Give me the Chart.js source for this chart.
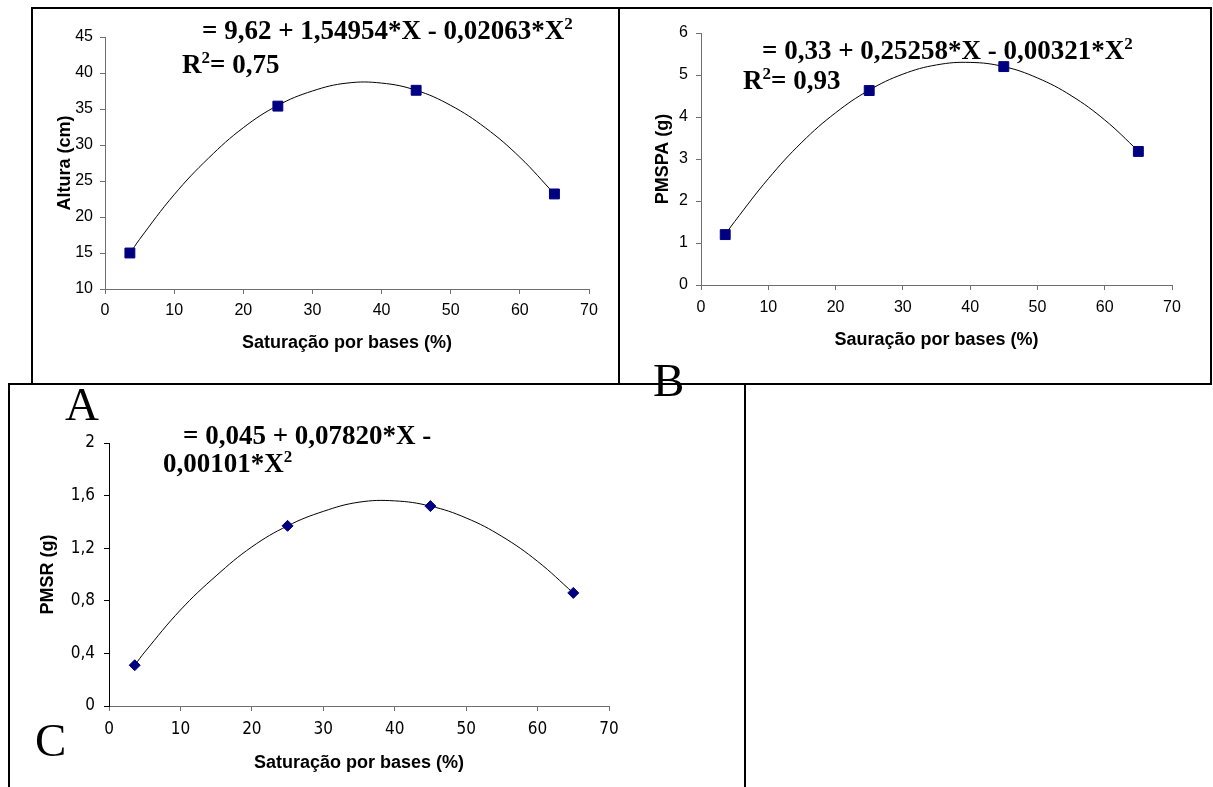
<!DOCTYPE html>
<html>
<head>
<meta charset="utf-8">
<script src="https://cdn.jsdelivr.net/npm/chart.js@4.4.0/dist/chart.umd.min.js"></script>
<style>
  body { margin: 0; background: #fff; width: 1213px; height: 787px; overflow: hidden; position: relative; }
  .box { position: absolute; border: 2px solid #000; box-sizing: border-box; }
  canvas { position: absolute; }
  .eq { position: absolute; font-family: 'Liberation Serif', 'Times New Roman', serif; font-weight: bold;
        font-size: 27px; line-height: 30px; white-space: nowrap; color: #000; }
  .eq .sup { font-size: 17px; position: relative; top: -10px; }
  .tag { position: absolute; font-family: 'Liberation Serif', 'Times New Roman', serif; font-size: 47px; line-height: 47px; color: #000; }
</style>
</head>
<body>
<div class="box" style="left:31px; top:7px; width:589px; height:378px;"></div>
<div class="box" style="left:618px; top:7px; width:594px; height:378px;"></div>
<div class="box" style="left:8px; top:383px; width:738px; height:420px;"></div>

<canvas id="chartA"></canvas>
<canvas id="chartB"></canvas>
<canvas id="chartC"></canvas>

<div class="eq" style="left:202px; top:15px;">= 9,62 + 1,54954*X - 0,02063*X<span class="sup">2</span></div>
<div class="eq" style="left:182px; top:49px;">R<span class="sup">2</span>= 0,75</div>
<div class="eq" style="left:762px; top:35px;">= 0,33 + 0,25258*X - 0,00321*X<span class="sup">2</span></div>
<div class="eq" style="left:743px; top:65px;">R<span class="sup">2</span>= 0,93</div>
<div class="eq" style="left:183px; top:420px;">= 0,045 + 0,07820*X -</div>
<div class="eq" style="left:163px; top:448px;">0,00101*X<span class="sup">2</span></div>

<div class="tag" style="left:65px; top:381px;">A</div>
<div class="tag" style="left:653px; top:357px;">B</div>
<div class="tag" style="left:35px; top:717px;">C</div>

<script>
// observed points (saturation %, response)
const satX = [3.6, 25, 45, 65];
const alturaCm = [15.0, 35.4, 37.6, 23.2];
const pmspaG = [1.2, 4.63, 5.2, 3.18];
const pmsrG = [0.31, 1.37, 1.52, 0.86];

// fitted curves
const curveX = [3.6, 5, 10, 15, 20, 25, 30, 35, 40, 45, 50, 55, 60, 65];
const curveAltura = [14.9, 16.9, 23.1, 28.2, 32.4, 35.5, 37.5, 38.6, 38.6, 37.6, 35.5, 32.4, 28.3, 23.2];
const curvePmspa = [1.2, 1.51, 2.53, 3.40, 4.10, 4.64, 5.02, 5.24, 5.30, 5.20, 4.93, 4.51, 3.93, 3.19];
const curvePmsr = [0.31, 0.41, 0.73, 0.99, 1.21, 1.37, 1.48, 1.55, 1.56, 1.52, 1.43, 1.29, 1.10, 0.86];

const pmsrTickLabels = ['0', '0,4', '0,8', '1,2', '1,6', '2'];

const AXIS_COLOR = '#6f6f6f';
const MARK_COLOR = '#000080';

function toPoints(xs, ys) {
    return xs.map((x, i) => ({ x: x, y: ys[i] }));
}

/**
 * Place a canvas and build a scatter + trend chart so that the
 * plot area lands on the given page rectangle.
 */
function buildPanel(id, opt) {
    const cv = document.getElementById(id);
    cv.width = opt.cw;
    cv.height = opt.ch;
    cv.style.left = opt.cx + 'px';
    cv.style.top = opt.cy + 'px';

    const l = opt.area.l - opt.cx;
    const t = opt.area.t - opt.cy;
    const r = opt.area.r - opt.cx;
    const b = opt.area.b - opt.cy;

    const tickFont = { family: opt.tickFamily, size: opt.tickSize };
    const titleFont = { family: 'Liberation Sans', size: 18, weight: 'bold' };

    return new Chart(cv, {
        type: 'scatter',
        data: {
            datasets: [{
                data: toPoints(satX, opt.ys),
                pointStyle: opt.marker,
                pointRadius: opt.radius,
                backgroundColor: MARK_COLOR,
                borderColor: MARK_COLOR,
                borderWidth: 1
            }, {
                data: toPoints(curveX, opt.curve),
                showLine: true,
                pointRadius: 0,
                borderColor: '#000',
                borderWidth: 1,
                tension: 0.4
            }]
        },
        options: {
            responsive: false,
            animation: false,
            devicePixelRatio: 1,
            layout: { padding: { left: 0, top: t, right: opt.cw - r, bottom: 0 } },
            plugins: { legend: { display: false }, tooltip: { enabled: false } },
            scales: {
                x: {
                    type: 'linear', min: 0, max: 70,
                    ticks: { stepSize: 10, color: '#000', font: tickFont, padding: opt.xTickPad, maxRotation: 0 },
                    grid: { drawOnChartArea: false, tickLength: 5, color: AXIS_COLOR },
                    border: { color: AXIS_COLOR },
                    title: { display: true, text: opt.xTitle, color: '#000', font: titleFont,
                             padding: { top: 0, bottom: opt.xTitlePad } },
                    afterFit: (s) => { s.height = opt.ch - b; s.paddingLeft = 0; s.paddingRight = 0; }
                },
                y: {
                    min: opt.yMin, max: opt.yMax,
                    ticks: { stepSize: opt.yStep, color: '#000', font: tickFont, padding: opt.yTickPad,
                             callback: opt.yLabel },
                    grid: { drawOnChartArea: false, tickLength: 5, color: opt.yAxisColor || AXIS_COLOR },
                    border: { color: opt.yAxisColor || AXIS_COLOR },
                    title: { display: true, text: opt.yTitle, color: '#000', font: titleFont,
                             padding: { top: opt.yTitlePad, bottom: 0 } },
                    afterFit: (s) => { s.width = l; s.paddingTop = 0; s.paddingBottom = 0; }
                }
            }
        }
    });
}

buildPanel('chartA', {
    cx: 34, cy: 10, cw: 584, ch: 373,
    area: { l: 105, t: 37, r: 589, b: 289 },
    ys: alturaCm, curve: curveAltura,
    marker: 'rect', radius: 7,
    yMin: 10, yMax: 45, yStep: 5,
    tickFamily: 'Liberation Sans', tickSize: 16,
    xTickPad: 7, yTickPad: 7, xTitlePad: 29, yTitlePad: 20,
    xTitle: 'Saturação por bases (%)', yTitle: 'Altura (cm)'
});

buildPanel('chartB', {
    cx: 621, cy: 10, cw: 589, ch: 373,
    area: { l: 701, t: 33, r: 1172, b: 285 },
    ys: pmspaG, curve: curvePmspa,
    marker: 'rect', radius: 7,
    yMin: 0, yMax: 6, yStep: 1,
    tickFamily: 'Liberation Sans', tickSize: 16,
    xTickPad: 8, yTickPad: 8, xTitlePad: 32, yTitlePad: 31,
    xTitle: 'Sauração por bases (%)', yTitle: 'PMSPA (g)'
});

buildPanel('chartC', {
    cx: 11, cy: 386, cw: 733, ch: 401,
    area: { l: 109, t: 443, r: 609, b: 706 },
    ys: pmsrG, curve: curvePmsr,
    marker: 'rectRot', radius: 5.5,
    yMin: 0, yMax: 2, yStep: 0.4,
    yLabel: (v, i) => pmsrTickLabels[i],
    yAxisColor: '#000',
    tickFamily: 'DejaVu Sans Condensed, Liberation Sans Narrow, DejaVu Sans', tickSize: 17,
    xTickPad: 8, yTickPad: 9, xTitlePad: 13, yTitlePad: 26,
    xTitle: 'Saturação por bases (%)', yTitle: 'PMSR (g)'
});
</script>
</body>
</html>
